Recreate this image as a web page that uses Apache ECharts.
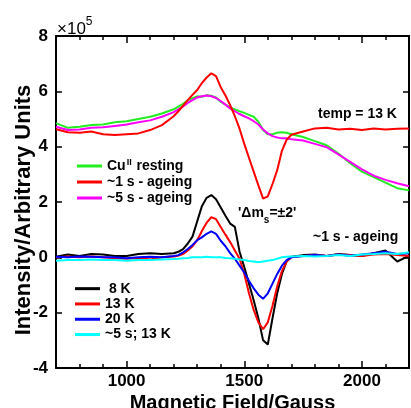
<!DOCTYPE html>
<html>
<head>
<meta charset="utf-8">
<script src="https://cdn.jsdelivr.net/npm/echarts@6/dist/echarts.min.js"></script>
<style>
  html, body { margin: 0; padding: 0; background: #fff; }
  #chart { width: 411px; height: 408px; }
</style>
</head>
<body>
<div id="chart"></div>
<script>
// Magnetic field sample points (Gauss)
const field = [700, 750, 800, 850, 900, 950, 1000, 1050, 1100, 1150, 1200,
  1220, 1240, 1260, 1280, 1300, 1320, 1340, 1360, 1380, 1400,
  1420, 1440, 1460, 1480, 1500, 1520, 1540, 1560, 1580, 1600,
  1620, 1640, 1660, 1680, 1700,
  1750, 1800, 1850, 1900, 1950, 2000, 2050, 2100, 2150, 2200];

// Upper traces, intensity in units of 1e5 (temp = 13 K)
const cuResting = [4.85, 4.68, 4.72, 4.78, 4.8, 4.88, 4.92, 5.0, 5.08, 5.2, 5.35,
  5.45, 5.55, 5.68, 5.75, 5.82, 5.8, 5.86, 5.84, 5.78, 5.62,
  5.52, 5.42, 5.35, 5.28, 5.22, 5.15, 5.08, 4.9, 4.6, 4.45,
  4.45, 4.5, 4.52, 4.5, 4.45,
  4.35, 4.2, 4.05, 3.75, 3.4, 3.1, 2.9, 2.7, 2.5, 2.42];
const ageing1s = [4.63, 4.52, 4.5, 4.55, 4.45, 4.42, 4.45, 4.48, 4.6, 4.78, 5.1,
  5.28, 5.48, 5.68, 5.87, 6.05, 6.3, 6.5, 6.65, 6.55, 6.15,
  5.85, 5.5, 5.1, 4.65, 4.1, 3.6, 3.1, 2.6, 2.12, 2.2,
  2.65, 3.15, 3.85, 4.25, 4.43,
  4.55, 4.66, 4.68, 4.62, 4.65, 4.6, 4.66, 4.62, 4.65, 4.66];
const ageing5s = [4.72, 4.6, 4.62, 4.68, 4.7, 4.75, 4.8, 4.88, 4.95, 5.08, 5.25,
  5.35, 5.45, 5.58, 5.68, 5.78, 5.82, 5.85, 5.82, 5.76, 5.65,
  5.52, 5.38, 5.28, 5.18, 5.1, 5.02, 4.92, 4.8, 4.62, 4.48,
  4.38, 4.33, 4.3, 4.3, 4.27,
  4.22, 4.1, 3.98, 3.72, 3.45, 3.18, 2.95, 2.8, 2.68, 2.57];

// Lower traces: ~1 s ageing at several temperatures, plus ~5 s at 13 K
const temp8K = [0.02, 0.1, 0.05, 0.12, 0.1, 0.05, 0.05, 0.12, 0.15, 0.12, 0.15,
  0.2, 0.3, 0.5, 0.75, 1.3, 1.85, 2.15, 2.25, 2.1, 1.8,
  1.5, 1.22, 1.1, 0.2, -0.35, -0.95, -1.55, -2.2, -3.0, -3.15,
  -2.2, -1.3, -0.6, -0.15, 0.02,
  0.08, 0.1, 0.05, 0.12, 0.08, 0.05, 0.15, 0.25, -0.15, 0.05];
const temp13K = [0.0, 0.03, 0.0, 0.03, 0.0, -0.03, -0.05, -0.02, -0.08, 0.0, 0.03,
  0.06, 0.12, 0.25, 0.4, 0.62, 0.95, 1.25, 1.45, 1.38, 1.1,
  0.82, 0.55, 0.25, -0.05, -0.6, -1.3, -1.9, -2.35, -2.6, -2.35,
  -1.75, -1.05, -0.5, -0.15, 0.0,
  0.05, 0.08, 0.05, 0.1, 0.08, 0.05, 0.1, 0.12, 0.08, 0.05];
const temp20K = [0.02, 0.0, 0.03, 0.02, 0.0, 0.0, -0.03, 0.0, 0.02, 0.0, 0.05,
  0.08, 0.18, 0.3, 0.45, 0.62, 0.72, 0.85, 0.94, 0.85, 0.6,
  0.4, 0.15, -0.05, -0.3, -0.55, -0.85, -1.12, -1.35, -1.5, -1.3,
  -0.95, -0.6, -0.3, -0.1, 0.0,
  0.05, 0.08, 0.05, 0.1, 0.06, 0.1, 0.15, 0.2, 0.12, 0.15];
const ageing5s13K = [-0.12, -0.1, -0.1, -0.08, -0.1, -0.1, -0.12, -0.1, -0.1, -0.08, -0.06,
  -0.05, -0.03, -0.02, 0.0, 0.0, 0.0, 0.02, 0.0, 0.0, 0.0,
  -0.02, -0.03, -0.05, -0.08, -0.1, -0.13, -0.15, -0.18, -0.15, -0.12,
  -0.1, -0.05, 0.0, 0.02, 0.03,
  0.05, 0.03, 0.05, 0.08, 0.05, 0.1, 0.12, 0.15, 0.12, 0.18];

// Tick positions
const xMajorTicks = [1000, 1500, 2000];
const xMinorTicks = [800, 900, 1100, 1200, 1300, 1400, 1600, 1700, 1800, 1900, 2100];

const FONT = '"Liberation Sans", Arial, sans-serif';
const BLACK = '#000';

const toPairs = vals => field.map((f, i) => [f, vals[i]]);
const trace = (name, color, vals, z) => ({
  type: 'line', name, data: toPairs(vals), symbol: 'none', z,
  lineStyle: { color, width: 2 }, itemStyle: { color },
  silent: true, animation: false, clip: true
});

const xAxisBase = {
  type: 'value', min: 700, max: 2200, gridIndex: 0,
  splitLine: { show: false }
};
const tickStyle = { color: BLACK, width: 1.5 };

const chart = echarts.init(document.getElementById('chart'), null, { renderer: 'canvas' });
chart.setOption({
  animation: false,
  backgroundColor: '#fff',
  textStyle: { fontFamily: FONT },
  grid: { left: 56, right: 2, top: 36, bottom: 40, containLabel: false, outerBoundsMode: 'none' },
  xAxis: [
    Object.assign({}, xAxisBase, {
      position: 'bottom',
      axisLine: { show: true, onZero: false, lineStyle: { color: BLACK, width: 2 } },
      axisTick: { inside: true, length: 7, customValues: xMajorTicks, lineStyle: tickStyle },
      axisLabel: {
        customValues: xMajorTicks, formatter: v => String(v),
        color: BLACK, fontSize: 17, fontWeight: 'bold', fontFamily: FONT, margin: 5
      },
      name: 'Magnetic Field/Gauss', nameLocation: 'middle', nameGap: 25, nameMoveOverlap: false,
      nameTextStyle: { color: BLACK, fontSize: 20, fontWeight: 'bold', fontFamily: FONT, verticalAlign: 'top' }
    }),
    Object.assign({}, xAxisBase, {
      position: 'bottom',
      axisLine: { show: false, onZero: false },
      axisTick: { inside: true, length: 4, customValues: xMinorTicks, lineStyle: tickStyle },
      axisLabel: { show: false }
    }),
    Object.assign({}, xAxisBase, {
      position: 'top',
      axisLine: { show: true, onZero: false, lineStyle: { color: BLACK, width: 2 } },
      axisTick: { inside: true, length: 7, customValues: xMajorTicks, lineStyle: tickStyle },
      axisLabel: { show: false }
    }),
    Object.assign({}, xAxisBase, {
      position: 'top',
      axisLine: { show: false, onZero: false },
      axisTick: { inside: true, length: 4, customValues: xMinorTicks, lineStyle: tickStyle },
      axisLabel: { show: false }
    })
  ],
  yAxis: [
    {
      type: 'value', position: 'left', min: -4, max: 8, interval: 2,
      splitLine: { show: false },
      axisLine: { show: true, onZero: false, lineStyle: { color: BLACK, width: 2 } },
      axisTick: { inside: true, length: 6, lineStyle: tickStyle },
      axisLabel: { color: BLACK, fontSize: 17, fontWeight: 'bold', fontFamily: FONT, margin: 8 },
      name: 'Intensity/Arbitrary Units', nameLocation: 'middle', nameGap: 21, nameRotate: 90,
      nameMoveOverlap: false,
      nameTextStyle: { color: BLACK, fontSize: 22, fontWeight: 'bold', fontFamily: FONT, padding: [0, 16, 0, 0] }
    },
    {
      type: 'value', position: 'right', min: -4, max: 8, interval: 2,
      splitLine: { show: false },
      axisLine: { show: true, onZero: false, lineStyle: { color: BLACK, width: 2 } },
      axisTick: { inside: true, length: 6, lineStyle: tickStyle },
      axisLabel: { show: false }
    }
  ],
  legend: [
    {
      data: ['CuII resting', '~1 s - ageing', '~5 s - ageing'],
      orient: 'vertical', left: 72, top: 153, itemWidth: 25, itemHeight: 3, itemGap: 0,
      icon: 'rect', selectedMode: false,
      formatter: n => n === 'CuII resting' ? '{t|Cu}{sup|II}{t| resting}' : '{t|' + n + '}',
      textStyle: {
        color: BLACK, fontFamily: FONT, fontWeight: 'bold', fontSize: 14, lineHeight: 16,
        rich: {
          t: { color: BLACK, fontFamily: FONT, fontWeight: 'bold', fontSize: 14, lineHeight: 16 },
          sup: { color: BLACK, fontFamily: FONT, fontWeight: 'bold', fontSize: 9, lineHeight: 16, verticalAlign: 'top', padding: [0, 1, 6, 1] }
        }
      }
    },
    {
      data: ['8 K', '13 K', '20 K', '~5 s; 13 K'],
      orient: 'vertical', left: 70, top: 276, itemWidth: 25, itemHeight: 3, itemGap: 0,
      icon: 'rect', selectedMode: false,
      formatter: n => n === '8 K' ? ' 8 K' : n,
      textStyle: { color: BLACK, fontFamily: FONT, fontWeight: 'bold', fontSize: 14, lineHeight: 15.3 }
    }
  ],
  graphic: [
    {
      type: 'text', left: 57, top: 16, silent: true,
      style: {
        text: '{a|×10}{s|5}', fill: BLACK,
        rich: {
          a: { fontFamily: FONT, fontSize: 17, fill: BLACK, lineHeight: 22, verticalAlign: 'bottom' },
          s: { fontFamily: FONT, fontSize: 12, fill: BLACK, lineHeight: 22, verticalAlign: 'top' }
        }
      }
    },
    {
      type: 'text', left: 318, top: 107, silent: true,
      style: { text: 'temp = 13 K', fill: BLACK, font: 'bold 14px ' + FONT }
    },
    {
      type: 'text', left: 238, top: 206, silent: true,
      style: {
        text: "{t|'Δm}{sub|s}{t|=±2'}", fill: BLACK,
        rich: {
          t: { fontFamily: FONT, fontWeight: 'bold', fontSize: 14, fill: BLACK, lineHeight: 19, verticalAlign: 'top' },
          sub: { fontFamily: FONT, fontWeight: 'bold', fontSize: 10, fill: BLACK, lineHeight: 19, verticalAlign: 'bottom' }
        }
      }
    },
    {
      type: 'text', left: 313, top: 230, silent: true,
      style: { text: '~1 s - ageing', fill: BLACK, font: 'bold 14px ' + FONT }
    }
  ],
  series: [
    trace('CuII resting', '#22ee22', cuResting, 2),
    trace('~5 s - ageing', '#ff00ff', ageing5s, 3),
    trace('~1 s - ageing', '#ff0000', ageing1s, 4),
    trace('8 K', '#000000', temp8K, 5),
    trace('13 K', '#ff0000', temp13K, 6),
    trace('20 K', '#0000ff', temp20K, 7),
    trace('~5 s; 13 K', '#00ffff', ageing5s13K, 8)
  ]
});
</script>
</body>
</html>
